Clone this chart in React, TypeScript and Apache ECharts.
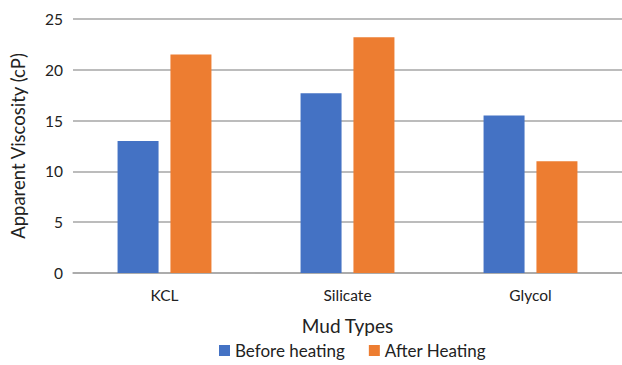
import React, { useEffect, useRef } from "react";
import * as echarts from "echarts";

const categories = ["KCL", "Silicate", "Glycol"];
const beforeHeating = [13.0, 17.7, 15.5];
const afterHeating = [21.5, 23.2, 11.0];
const seriesNames = ["Before heating", "After Heating"];

export default function App() {
  const ref = useRef<HTMLDivElement>(null);
  useEffect(() => {
    const chart = echarts.init(ref.current!, undefined, { renderer: "svg" });
    const font = "Lato, 'Open Sans', sans-serif";
    chart.setOption({
      animation: false,
      textStyle: { fontFamily: font },
      grid: { left: 67, right: -7, top: 19, bottom: 92 },
      legend: {
        bottom: 1,
        left: 214,
        itemWidth: 11,
        itemHeight: 11,
        itemGap: 24,
        icon: "rect",
        textStyle: { fontSize: 17, color: "#222", fontFamily: font },
        data: seriesNames,
      },
      xAxis: {
        type: "category",
        data: categories,
        name: "Mud Types",
        nameLocation: "middle",
        nameGap: 43,
        nameTextStyle: { fontSize: 19, color: "#222", fontFamily: font },
        axisTick: { show: false },
        axisLine: { lineStyle: { color: "#a6a6a6", width: 1.5 } },
        axisLabel: { fontSize: 15.5, color: "#222", margin: 14 },
      },
      yAxis: {
        type: "value",
        min: 0,
        max: 25,
        interval: 5,
        name: "Apparent Viscosity (cP)",
        nameLocation: "middle",
        nameGap: 46,
        nameRotate: 90,
        nameTextStyle: { fontSize: 18.5, color: "#222", fontFamily: font },
        axisLine: { show: false },
        axisTick: { show: false },
        axisLabel: { fontSize: 15.5, color: "#222", margin: 10 },
        splitLine: { lineStyle: { color: "#a6a6a6", width: 1.5 } },
      },
      series: [
        {
          name: seriesNames[0],
          type: "bar",
          data: beforeHeating,
          itemStyle: { color: "#4472c4" },
          barWidth: 41,
          barGap: "29%",
        },
        {
          name: seriesNames[1],
          type: "bar",
          data: afterHeating,
          itemStyle: { color: "#ed7d31" },
          barWidth: 41,
          barGap: "29%",
        },
      ],
    });
    return () => chart.dispose();
  }, []);
  return (
    <div
      ref={ref}
      style={{ position: "fixed", left: 0, top: 0, width: 622, height: 365, background: "#fff" }}
    />
  );
}
